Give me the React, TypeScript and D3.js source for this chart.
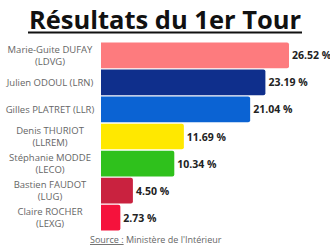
import React from "react";
import * as d3 from "d3";

const candidates = [
  ["Marie-Guite DUFAY", "(LDVG)"],
  ["Julien ODOUL (LRN)"],
  ["Gilles PLATRET (LLR)"],
  ["Denis THURIOT", "(LLREM)"],
  ["Stéphanie MODDE", "(LECO)"],
  ["Bastien FAUDOT", "(LUG)"],
  ["Claire ROCHER", "(LEXG)"],
];
const values = [26.52, 23.19, 21.04, 11.69, 10.34, 4.5, 2.73];
const colors = ["#fd7b7e", "#0f2f8c", "#0b63d3", "#ffe800", "#2fc11c", "#c9223f", "#f5123c"];

export default function App() {
  const W = 330, H = 247;
  const x0 = 101;
  const x = d3.scaleLinear().domain([0, 26.52]).range([x0, 289]);
  const y = d3.scaleBand<number>().domain(d3.range(values.length)).range([42, 231]).paddingInner(0.05).paddingOuter(0.02);
  const font = "'Open Sans', sans-serif";
  return (
    <svg width={W} height={H} style={{ position: "absolute", left: 0, top: 0, background: "#fff" }}>
      <text x={165} y={29} textAnchor="middle" fontFamily={font} fontWeight={700} fontSize={25.5} fill="#111">
        Résultats du 1er Tour
      </text>
      <line x1={28} x2={302} y1={32.5} y2={32.5} stroke="#111" strokeWidth={2} />
      {values.map((v, i) => {
        const by = y(i)!;
        const bh = y.bandwidth();
        const w = x(v) - x0;
        const lines = candidates[i];
        const cy = by + bh / 2;
        return (
          <g key={i}>
            <path
              d={`M${x0},${by} H${x0 + w - 2} Q${x0 + w},${by} ${x0 + w},${by + 2} V${by + bh - 2} Q${x0 + w},${by + bh} ${x0 + w - 2},${by + bh} H${x0} Z`}
              fill={colors[i]}
            />
            <text x={x(v) + 3} y={cy + 4} fontFamily={font} fontWeight={700} fontSize={10.5} fill="#222">
              {v.toFixed(2)} %
            </text>
            {lines.map((l, j) => (
              <text
                key={j}
                x={50}
                y={cy + 3.5 + (j - (lines.length - 1) / 2) * 12}
                textAnchor="middle"
                fontFamily={font}
                fontSize={9.5}
                fill="#666"
              >
                {l}
              </text>
            ))}
          </g>
        );
      })}
      <text x={90} y={243} fontFamily={font} fontSize={9} fill="#666">
        <tspan textDecoration="underline">Source :</tspan> Ministère de l'Intérieur
      </text>
    </svg>
  );
}
